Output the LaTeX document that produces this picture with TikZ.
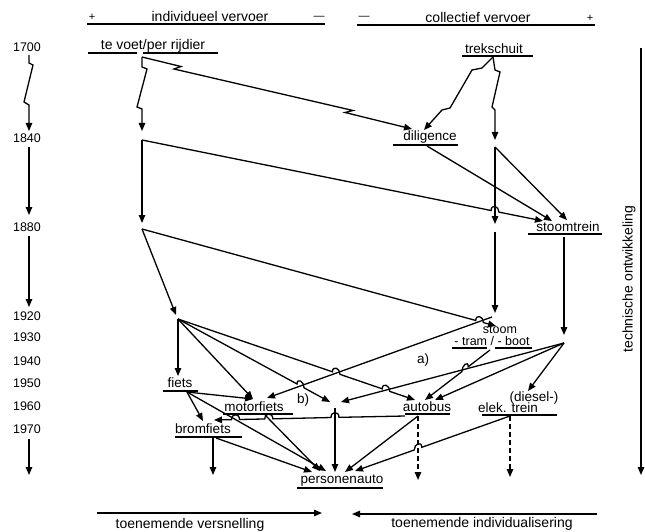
\documentclass[tikz,border=0pt]{standalone}
\usepackage{fontspec}
\setmainfont{Liberation Sans}
\usetikzlibrary{arrows.meta,calc}
\begin{document}
\begin{tikzpicture}[x=1pt,y=-1pt,line width=1.3pt,
  con/.style={-{Triangle[length=8pt,width=6.5pt]}},
  dsh/.style={dash pattern=on 5pt off 3pt},
  ul/.style={line width=1.4pt},
  lab/.style={font=\fontsize{13.5}{13.5}\selectfont, inner sep=0pt},
  lsm/.style={font=\fontsize{12.5}{12.5}\selectfont, inner sep=0pt},
  yr/.style={font=\fontsize{12.5}{12.5}\selectfont, inner sep=0pt},
  hdr/.style={font=\fontsize{14}{14}\selectfont, inner sep=0pt},
  sml/.style={font=\fontsize{11}{11}\selectfont, inner sep=0pt},
  hop/.style n args={3}{insert path={-- ($(#1)!4pt!(#2)$) .. controls +(0,-6.5) and +(0,-6.5) .. ($(#1)!4pt!(#3)$)}}
]
\useasboundingbox (0,0) rectangle (645,532);

% ---------- headers
\node[hdr] (hind) at (210,16) {individueel vervoer};
\node[sml] (hp1) at (92,17) {+};
\node[sml] (hm1) at (319,18) {—};
\draw[ul] (87,24) -- (325,24);
\node[hdr] (hcol) at (478,17) {collectief vervoer};
\node[sml] (hm2) at (364,18) {—};
\node[sml] (hp2) at (590,18) {+};
\draw[ul] (357,25) -- (595,25);

% ---------- years and time axis
\foreach \yv/\yy in {1700/47,1840/138,1880/227,1920/316,1930/337,1940/361,1950/383,1960/406,1970/429}
  \node[yr] (y\yv) at (27,\yy) {\yv};
\draw[con] (29,55) -- ++(0,8) -- ++(4,2) -- ++(-9,37) -- ++(5,3) -- (29,131);
\draw[con] (29,147) -- (29,215);
\draw[con] (29,236) -- (29,307);
\draw[con] (29,439) -- (29,475);

\draw[con] (641,48) -- (641,475);
\node[hdr, rotate=90] (tech) at (629,279) {technische ontwikkeling};

% ---------- bottom arrows
\draw[con] (97,513) -- (322,513);
\node[hdr] (vers) at (190,525) {toenemende versnelling};
\draw[con] (597,514) -- (352,514);
\node[hdr] (indiv) at (482,524) {toenemende individualisering};

% ---------- labels
\node[hdr] (tv) at (153,46) {te voet/per rijdier};
\draw[ul] (88,53) -- (137,53); \draw[ul] (143,53) -- (218,53);
\node[lab] (ts) at (494,49) {trekschuit};
\draw[ul] (462,56) -- (533,56);
\node[lab] (dl) at (430,137) {diligence};
\draw[ul] (393,145) -- (458,145);
\node[lab] (st) at (568,227) {stoomtrein};
\draw[ul] (528,234) -- (602,234);
\node[lsm] (sm) at (500,330) {stoom};
\node[lsm] (smb) at (492,341) {- tram / - boot};
\draw[ul] (452,348) -- (487,348); \draw[ul] (495,348) -- (532,348);
\node[lab] (fi) at (180,383) {fiets};
\draw[ul] (163,391) -- (198,391);
\node[lab] (mf) at (254,407) {motorfiets};
\draw[ul] (223,414) -- (293,414);
\node[lab] (bf) at (203,429) {bromfiets};
\draw[ul] (175,437) -- (242,437);
\node[lab] (pa) at (342,481) {personenauto};
\draw[ul] (297,488) -- (383,488);
\node[lab] (ab) at (427,407) {autobus};
\draw[ul] (405,414) -- (450,414);
\node[lab] (dt1) at (534,398) {(diesel-)};
\node[lab] (dt2) at (508,408) {elek. trein};
\draw[ul] (482,415) -- (557,415);
\node[lab] (la) at (423,360) {a)};
\node[lab] (lb) at (303,400) {b)};

% ---------- connection points
\coordinate (tvP) at (142,57);   \coordinate (tsP) at (493,57);
\coordinate (dlIn1) at (412,129); \coordinate (dlIn2) at (424,130); \coordinate (dlP) at (427,146);
\coordinate (p40l) at (142,140); \coordinate (p40lIn) at (142,131);
\coordinate (p40r) at (495,147); \coordinate (p40rIn) at (495,140);
\coordinate (stIn1) at (543,221); \coordinate (stIn2) at (552,221); \coordinate (stIn3) at (567,220);
\coordinate (stP) at (564,237); \coordinate (stIn4) at (564,335); \coordinate (st2) at (564,343);
\coordinate (p80l) at (142,229); \coordinate (p80lIn) at (142,223);
\coordinate (p80r) at (495,232); \coordinate (p80rIn) at (495,224);
\coordinate (smIn1) at (495,313); \coordinate (smIn2) at (496,326);
\coordinate (sm1) at (492,317); \coordinate (soP) at (490,350);
\coordinate (p20In) at (176,315); \coordinate (p20) at (178,319);
\coordinate (fiIn) at (178,376); \coordinate (fiP) at (187,392);
\coordinate (mfIn1) at (253,399); \coordinate (mfIn2) at (267,398); \coordinate (mfP) at (265,415);
\coordinate (bjIn1) at (330,402); \coordinate (bjIn2) at (341,402); \coordinate (bjP) at (335,408);
\coordinate (abIn1) at (415,400); \coordinate (abIn2) at (425,400); \coordinate (abIn3) at (435,400);
\coordinate (abP) at (418,416); \coordinate (abL) at (405,416); \coordinate (abEnd) at (418,480);
\coordinate (dtIn) at (528,391); \coordinate (dtP) at (510,416); \coordinate (dtEnd) at (510,477);
\coordinate (bfIn1) at (203,421); \coordinate (bfIn2) at (214,420);
\coordinate (bfP) at (213,438); \coordinate (bfP2) at (216,438); \coordinate (bfEnd) at (213,475);
\coordinate (paIn1) at (312,472); \coordinate (paIn2) at (320,471); \coordinate (paIn3) at (326,471);
\coordinate (paIn4) at (335,472); \coordinate (paIn5) at (345,472); \coordinate (paIn6) at (355,471);

% ---------- hop points
\coordinate (h1) at (intersection of p40l--stIn1 and p40r--p80rIn);
\coordinate (h2) at (intersection of p80l--smIn2 and sm1--mfIn2);
\coordinate (h3) at (intersection of soP--abIn2 and st2--bjIn2);
\coordinate (h4) at (intersection of p20--bjIn1 and sm1--mfIn2);
\coordinate (h5) at (intersection of p20--abIn1 and sm1--mfIn2);
\coordinate (h6) at (intersection of p20--abIn1 and st2--bjIn2);
\coordinate (h7) at (intersection of abL--bfIn2 and bjP--paIn4);
\coordinate (h8) at (intersection of abL--bfIn2 and mfP--paIn2);
\coordinate (h9) at (intersection of abL--bfIn2 and fiP--paIn3);
\coordinate (h10) at (intersection of dtP--paIn6 and abP--abEnd);

% ---------- 1700 -> 1840
\draw[con] (tvP) -- (181,66.5) -- (174,69) -- (353,110.5) -- (345,112.5) -- (dlIn1);
\draw[con] (tvP) -- ++(0,10) -- ++(5,2) -- ++(-10,38) -- ++(5,2) -- (p40lIn);
\draw[con] (tsP) -- (482,68) -- (472,70) -- (450,108) -- (442,110) -- (dlIn2);
\draw[con] (tsP) -- (495,70) -- (500,72) -- (492,107) -- (495,110) -- (p40rIn);

% ---------- 1840 -> 1880
\draw[con] (p40l) -- (p80lIn);
\draw[con] (p40l) [hop={h1}{p40l}{stIn1}] -- (stIn1);
\draw[con] (dlP) -- (stIn2);
\draw[con] (p40r) -- (p80rIn);
\draw[con] (p40r) -- (stIn3);

% ---------- 1880 -> 1920/30
\draw[con] (stP) -- (stIn4);
\draw[con] (p80l) -- (p20In);
\draw[con] (p80l) [hop={h2}{p80l}{smIn2}] -- (smIn2);
\draw[con] (p80r) -- (smIn1);

% ---------- from stoom / stoomtrein
\draw[con] (sm1) -- (mfIn2);
\draw[con] (soP) [hop={h3}{soP}{abIn2}] -- (abIn2);
\draw[con] (st2) -- (dtIn);
\draw[con] (st2) -- (abIn3);
\draw[con] (st2) -- (bjIn2);

% ---------- from 1920 point
\draw[con] (p20) -- (fiIn);
\draw[con] (p20) -- (mfIn1);
\draw[con] (p20) [hop={h4}{p20}{bjIn1}] -- (bjIn1);
\draw[con] (p20) [hop={h5}{p20}{abIn1}] [hop={h6}{p20}{abIn1}] -- (abIn1);

% ---------- lower part
\draw[con] (fiP) -- (mfIn1);
\draw[con] (fiP) -- (bfIn1);
\draw[con] (fiP) -- (paIn3);
\draw[con] (mfP) -- (paIn2);
\draw[con] (bfP2) -- (paIn1);
\draw[con] (bfP) -- (bfEnd);
\draw[con] (bjP) -- (paIn4);
\draw[con] (abP) -- (paIn5);
\draw[con,dsh] (abP) -- (abEnd);
\draw[con] (abL) [hop={h7}{abL}{bfIn2}] [hop={h8}{abL}{bfIn2}] [hop={h9}{abL}{bfIn2}] -- (bfIn2);
\draw[con] (dtP) [hop={h10}{dtP}{paIn6}] -- (paIn6);
\draw[con,dsh] (dtP) -- (dtEnd);
\end{tikzpicture}
\end{document}
